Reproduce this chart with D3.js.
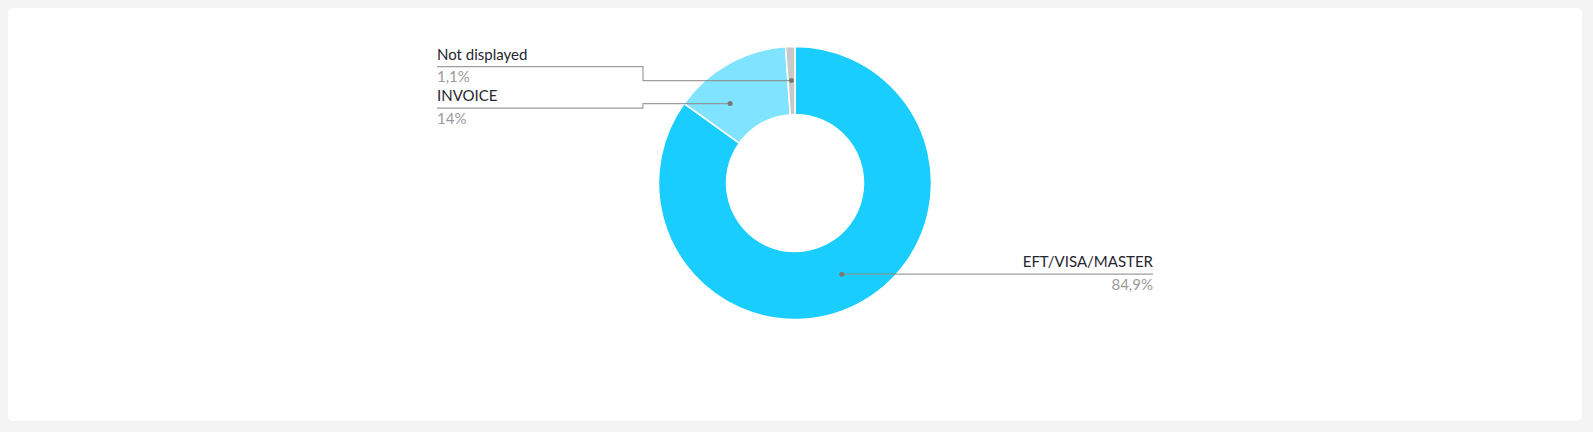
<!DOCTYPE html>
<html>
<head>
<meta charset="utf-8">
<script src="https://cdn.jsdelivr.net/npm/d3@7/dist/d3.min.js"></script>
<style>
  html, body { margin: 0; padding: 0; background: #f4f4f4; }
  body { width: 1593px; height: 432px; overflow: hidden; }
  #card { position: absolute; left: 8px; top: 8px; width: 1574px; height: 413px; background: #fff; border-radius: 5px; }
  svg { position: absolute; left: 0; top: 0; }
  text { font-family: Lato, "Open Sans", sans-serif; font-size: 15px; }
</style>
</head>
<body>
<div id="card"></div>
<svg id="chart" width="1593" height="432"></svg>
<script>
// ---- data ----
const categories = ["EFT/VISA/MASTER", "INVOICE", "Not displayed"];
const values = [84.9, 14, 1.1];
const valueLabels = ["84,9%", "14%", "1,1%"];

// ---- style ----
const colors = ["#19cdff", "#80e3ff", "#c8c8c8"];
const tickFrac = [0.5, 0.30, 0.5];  // where along each slice the leader dot sits
const cx = 795, cy = 183, R = 136.5, r = 68.5;
const labelOffset = 358, elbowOffset = 152;

const svg = d3.select("#chart");
const g = svg.append("g").attr("transform", `translate(${cx},${cy})`);

const data = categories.map((c, i) => ({ name: c, value: values[i], label: valueLabels[i], i }));
const pie = d3.pie().sort(null).value(d => d.value);
const arcs = pie(data);
const arc = d3.arc().innerRadius(r).outerRadius(R);

g.selectAll("path.slice").data(arcs).join("path")
  .attr("class", "slice")
  .attr("d", arc)
  .attr("fill", d => colors[d.data.i])
  .attr("stroke", "#fff")
  .attr("stroke-width", 1.5);

const midR = (R + r) / 2;
arcs.forEach(a => {
  const ang = a.startAngle + (a.endAngle - a.startAngle) * tickFrac[a.data.i];
  const px = midR * Math.sin(ang);
  const py = -midR * Math.cos(ang);
  const right = Math.sin(ang) > 0.1;
  let lineY, pts;
  if (right) {
    lineY = py;
    pts = [[px, py], [labelOffset, py]];
  } else {
    lineY = a.data.i === 2 ? py - 14 : py + 4.5;
    pts = [[px, py], [-elbowOffset, py], [-elbowOffset, lineY], [-labelOffset, lineY]];
  }
  g.append("path")
    .attr("d", d3.line()(pts))
    .attr("fill", "none")
    .attr("stroke", "#8c8c8c")
    .attr("stroke-opacity", 0.85)
    .attr("stroke-width", 1.2);
  g.append("circle").attr("cx", px).attr("cy", py).attr("r", 2.5).attr("fill", "#777");
  const tx = right ? labelOffset : -labelOffset;
  const anchor = right ? "end" : "start";
  g.append("text").attr("x", tx).attr("y", lineY - 7)
    .attr("text-anchor", anchor).attr("fill", "#262630").text(a.data.name);
  g.append("text").attr("x", tx).attr("y", lineY + 15.5)
    .attr("text-anchor", anchor).attr("fill", "#9a9a9a").text(a.data.label);
});
</script>
</body>
</html>
